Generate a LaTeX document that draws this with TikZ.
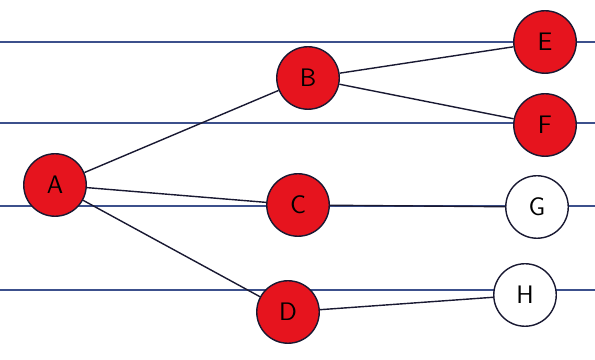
\documentclass[tikz,border=0pt]{standalone}
\usepackage{xcolor}
\usepackage{tikz}
\definecolor{ruling}{RGB}{60,80,140}
\definecolor{ink}{RGB}{25,25,50}
\definecolor{marker}{RGB}{230,20,30}
\begin{document}
\begin{tikzpicture}[
        vert/.style={draw=ink, thick, circle, minimum size=1.25cm, font=\Large\sffamily},
        redvert/.style={vert, fill=marker},
        edge/.style={draw=ink, thick}
    ]
        \useasboundingbox (0, 0) rectangle (11.9, 7.2);

        % ruled lines of the paper
        \foreach \y in {6.36, 4.74, 3.08, 1.4}
            \draw[ruling, thick] (0, \y) -- (11.9, \y);

        \node[redvert] at (1.1, 3.5) (A) {A};
        \node[redvert] at (6.16, 5.64) (B) {B};
        \node[redvert] at (5.96, 3.1) (C) {C};
        \node[redvert] at (5.76, 0.96) (D) {D};
        \node[redvert] at (10.9, 6.36) (E) {E};
        \node[redvert] at (10.9, 4.7) (F) {F};
        \node[vert, fill=white] at (10.74, 3.06) (G) {G};
        \node[vert, fill=white] at (10.5, 1.3) (H) {H};

        \draw[edge] (A) -- (B);
        \draw[edge] (A) -- (C);
        \draw[edge] (A) -- (D);

        \draw[edge] (B) -- (E);
        \draw[edge] (B) -- (F);

        \draw[edge] (C) -- (G);
        \draw[edge] (D) -- (H);
    \end{tikzpicture}
\end{document}
